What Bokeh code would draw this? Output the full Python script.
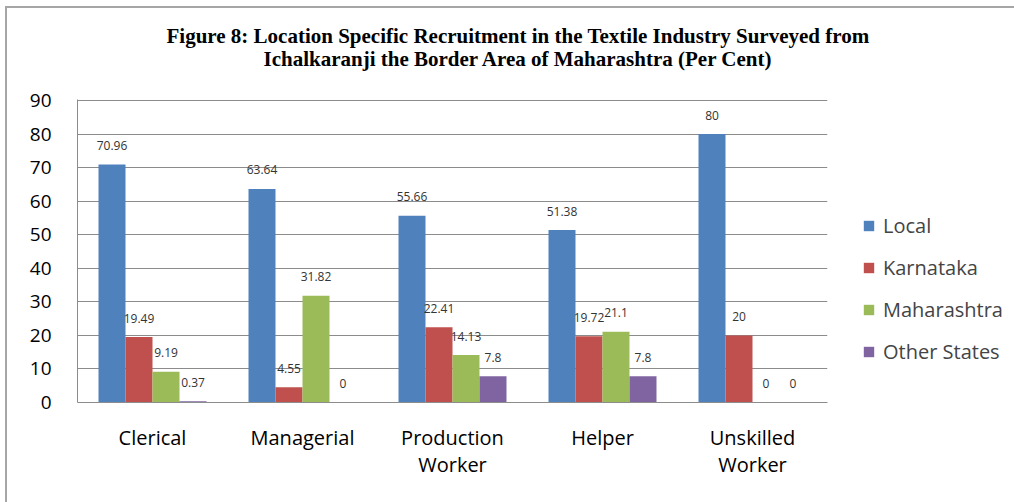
from bokeh.plotting import figure
from bokeh.models import Legend, LegendItem, ColumnDataSource, FixedTicker, Range1d, LinearAxis, Title
from bokeh.core.properties import value
from bokeh.embed import file_html
from bokeh.resources import INLINE

categories = ["Clerical", "Managerial", "Production Worker", "Helper", "Unskilled Worker"]
label_line1 = ["Clerical", "Managerial", "Production", "Helper", "Unskilled"]
label_line2 = ["", "", "Worker", "", "Worker"]
series_names = ["Local", "Karnataka", "Maharashtra", "Other States"]
local = [70.96, 63.64, 55.66, 51.38, 80]
karnataka = [19.49, 4.55, 22.41, 19.72, 20]
maharashtra = [9.19, 31.82, 14.13, 21.1, 0]
other_states = [0.37, 0, 7.8, 7.8, 0]
y_ticks = [0, 10, 20, 30, 40, 50, 60, 70, 80, 90]
title_line1 = "Figure 8: Location Specific Recruitment in the Textile Industry Surveyed from"
title_line2 = "Ichalkaranji the Border Area of Maharashtra (Per Cent)"

colors = ["#4F81BD", "#C0504D", "#9BBB59", "#8064A2"]
offsets = [-0.27, -0.09, 0.09, 0.27]
centers = [i + 0.5 for i in range(len(categories))]

p = figure(x_range=Range1d(0, len(categories)), y_range=Range1d(0, 90.3),
           frame_width=750, frame_height=303,
           min_border_left=77, min_border_top=99, min_border_right=180, min_border_bottom=100,
           output_backend="svg", toolbar_location=None)
p.outline_line_color = None
p.background_fill_color = "white"
p.border_fill_color = None
p.styles = {
    "background-color": "white",
    "background-image": "linear-gradient(#a6a6a6,#a6a6a6), linear-gradient(#a6a6a6,#a6a6a6)",
    "background-size": "2px 100%, 100% 2px",
    "background-position": "5px 6px, 5px 6px",
    "background-repeat": "no-repeat",
}

series = [local, karnataka, maharashtra, other_states]
items = []
for vals, name, c, off in zip(series, series_names, colors, offsets):
    xs = [cx + off for cx in centers]
    src = ColumnDataSource(dict(x=xs, top=vals, lab=[str(v) for v in vals]))
    r = p.vbar(x="x", top="top", width=0.18, source=src, fill_color=c, line_color=None)
    items.append(LegendItem(label=name, renderers=[r]))
    p.text(x="x", y="top", text="lab", source=src,
           text_font=value("Open Sans"), text_font_size="12px", text_color="#333333",
           text_align="center", text_baseline="middle", y_offset=-19)

p.xgrid.grid_line_color = None
p.ygrid.grid_line_color = "#8c8c8c"
p.ygrid.grid_line_width = 1
p.ygrid.ticker = FixedTicker(ticks=y_ticks)
p.yaxis.ticker = FixedTicker(ticks=y_ticks)
p.yaxis.axis_line_color = "#8c8c8c"
p.yaxis.major_tick_line_color = None
p.yaxis.minor_tick_line_color = None
p.yaxis.major_label_standoff = 20
p.yaxis.major_label_text_font = "Open Sans"
p.yaxis.major_label_text_font_size = "19px"
p.yaxis.major_label_text_color = "black"

p.xaxis.ticker = FixedTicker(ticks=centers)
p.xaxis.major_label_overrides = {c: t for c, t in zip(centers, label_line1)}
p.xaxis.axis_line_color = "#8c8c8c"
p.xaxis.major_tick_line_color = None
p.xaxis.minor_tick_line_color = None
p.xaxis.major_label_standoff = 15
p.xaxis.major_label_text_font = "Open Sans"
p.xaxis.major_label_text_font_size = "20px"
p.xaxis.major_label_text_color = "black"

ax2 = LinearAxis(ticker=FixedTicker(ticks=centers),
                 major_label_overrides={c: t for c, t in zip(centers, label_line2)},
                 axis_line_color=None, major_tick_line_color=None, minor_tick_line_color=None,
                 major_label_standoff=-9, major_label_text_font="Open Sans",
                 major_label_text_font_size="20px", major_label_text_color="black")
p.add_layout(ax2, "below")

legend = Legend(items=items, location=(35, 37), orientation="vertical",
                label_text_font="Open Sans", label_text_font_size="20px",
                glyph_width=13, glyph_height=13, label_height=20, spacing=15,
                label_standoff=8, padding=0, margin=0,
                border_line_color=None, background_fill_alpha=0)
p.add_layout(legend, "right")

spacer = Title(text=" ", text_font_size="2px", standoff=25, text_color="white")
t2 = Title(text=title_line2, align="left", offset=186, standoff=0,
           text_font="Liberation Serif", text_font_style="bold", text_font_size="21px",
           text_color="black")
t1 = Title(text=title_line1, align="left", offset=89, standoff=-6,
           text_font="Liberation Serif", text_font_style="bold", text_font_size="21px",
           text_color="black")
p.add_layout(spacer, "above")
p.add_layout(t2, "above")
p.add_layout(t1, "above")

open("out.html", "w").write(file_html(p, INLINE))
